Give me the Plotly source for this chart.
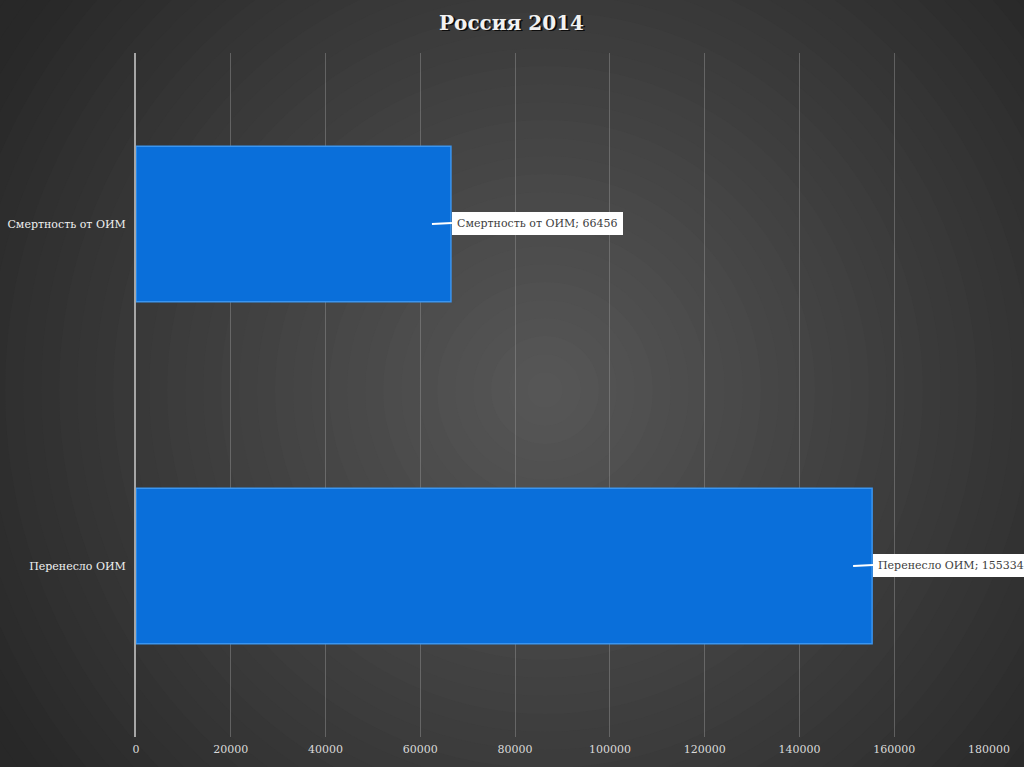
import plotly.graph_objects as go

categories = ["Перенесло ОИМ", "Смертность от ОИМ"]
values = [155334, 66456]
x_ticks = [0, 20000, 40000, 60000, 80000, 100000, 120000, 140000, 160000, 180000]
title_text = "Россия 2014"

W, H = 1024, 767
L, R, T, B = 136, 35, 53, 30
pw, ph = W - L - R, H - T - B

fig = go.Figure()
fig.add_trace(go.Bar(
    y=categories, x=values, orientation="h", width=0.455,
    marker=dict(color="#0a6fda", line=dict(color="#3a95f0", width=1.5)),
    hoverinfo="x+y",
))

# radial-ish background built from concentric circles (pixel-based)
shapes = []
cx, cy = 545, 390
n = 40
rmax = 720
for i in range(n):
    r = rmax * (1 - i / n)
    g = int(40 + (88 - 40) * (1 - r / 650)) if r < 650 else 40
    col = f"rgb({g},{g},{g})"
    shapes.append(dict(
        type="circle", xref="paper", yref="paper", layer="below",
        x0=(cx - r - L) / pw, x1=(cx + r - L) / pw,
        y0=(H - B - (cy + r)) / ph, y1=(H - B - (cy - r)) / ph,
        fillcolor=col, line=dict(width=0),
    ))

annotations = []
# title with shadow
annotations.append(dict(text=f"<b>{title_text}</b>", xref="paper", yref="paper",
                        x=(511 - L) / pw, y=1, yshift=43, xshift=2, showarrow=False,
                        font=dict(family="DejaVu Serif", size=20, color="rgba(0,0,0,0.8)")))
annotations.append(dict(text=f"<b>{title_text}</b>", xref="paper", yref="paper",
                        x=(511 - L) / pw, y=1, yshift=44, showarrow=False,
                        font=dict(family="DejaVu Serif", size=20, color="#f2f2f2")))
# data callouts
for c, v in zip(categories, values):
    annotations.append(dict(
        x=v, y=c, xref="x", yref="y", xshift=-19,
        text=f"{c}; {v}", showarrow=True, arrowhead=0, arrowwidth=2,
        arrowcolor="white", ax=20, ay=-1, xanchor="left",
        bgcolor="white", borderpad=4, bordercolor="white",
        font=dict(family="DejaVu Serif", size=11, color="#404040"),
    ))

fig.update_layout(
    width=W, height=H,
    margin=dict(l=L, r=R, t=T, b=B, autoexpand=False),
    paper_bgcolor="#2a2a2a",
    plot_bgcolor="rgba(0,0,0,0)",
    showlegend=False,
    shapes=shapes,
    annotations=annotations,
    xaxis=dict(
        range=[0, 180000], tickvals=x_ticks, ticktext=[str(t) for t in x_ticks],
        showgrid=True, gridcolor="rgba(150,150,150,0.45)", gridwidth=1,
        zeroline=False, showline=False, ticks="", ticklabelstandoff=4,
        tickfont=dict(family="DejaVu Serif", size=11, color="#d9d9d9"),
        fixedrange=True, automargin=False,
    ),
    yaxis=dict(
        range=[-0.5, 1.5], showgrid=False, zeroline=False,
        showline=True, linecolor="#a6a6a6", linewidth=2,
        ticks="", ticklabelstandoff=6,
        tickfont=dict(family="DejaVu Serif", size=11, color="#f0f0f0"),
        fixedrange=True, automargin=False,
    ),
)

fig.write_html("out.html", config={"displayModeBar": False},
               post_script="document.body.style.margin='0';document.body.style.overflow='hidden';")
